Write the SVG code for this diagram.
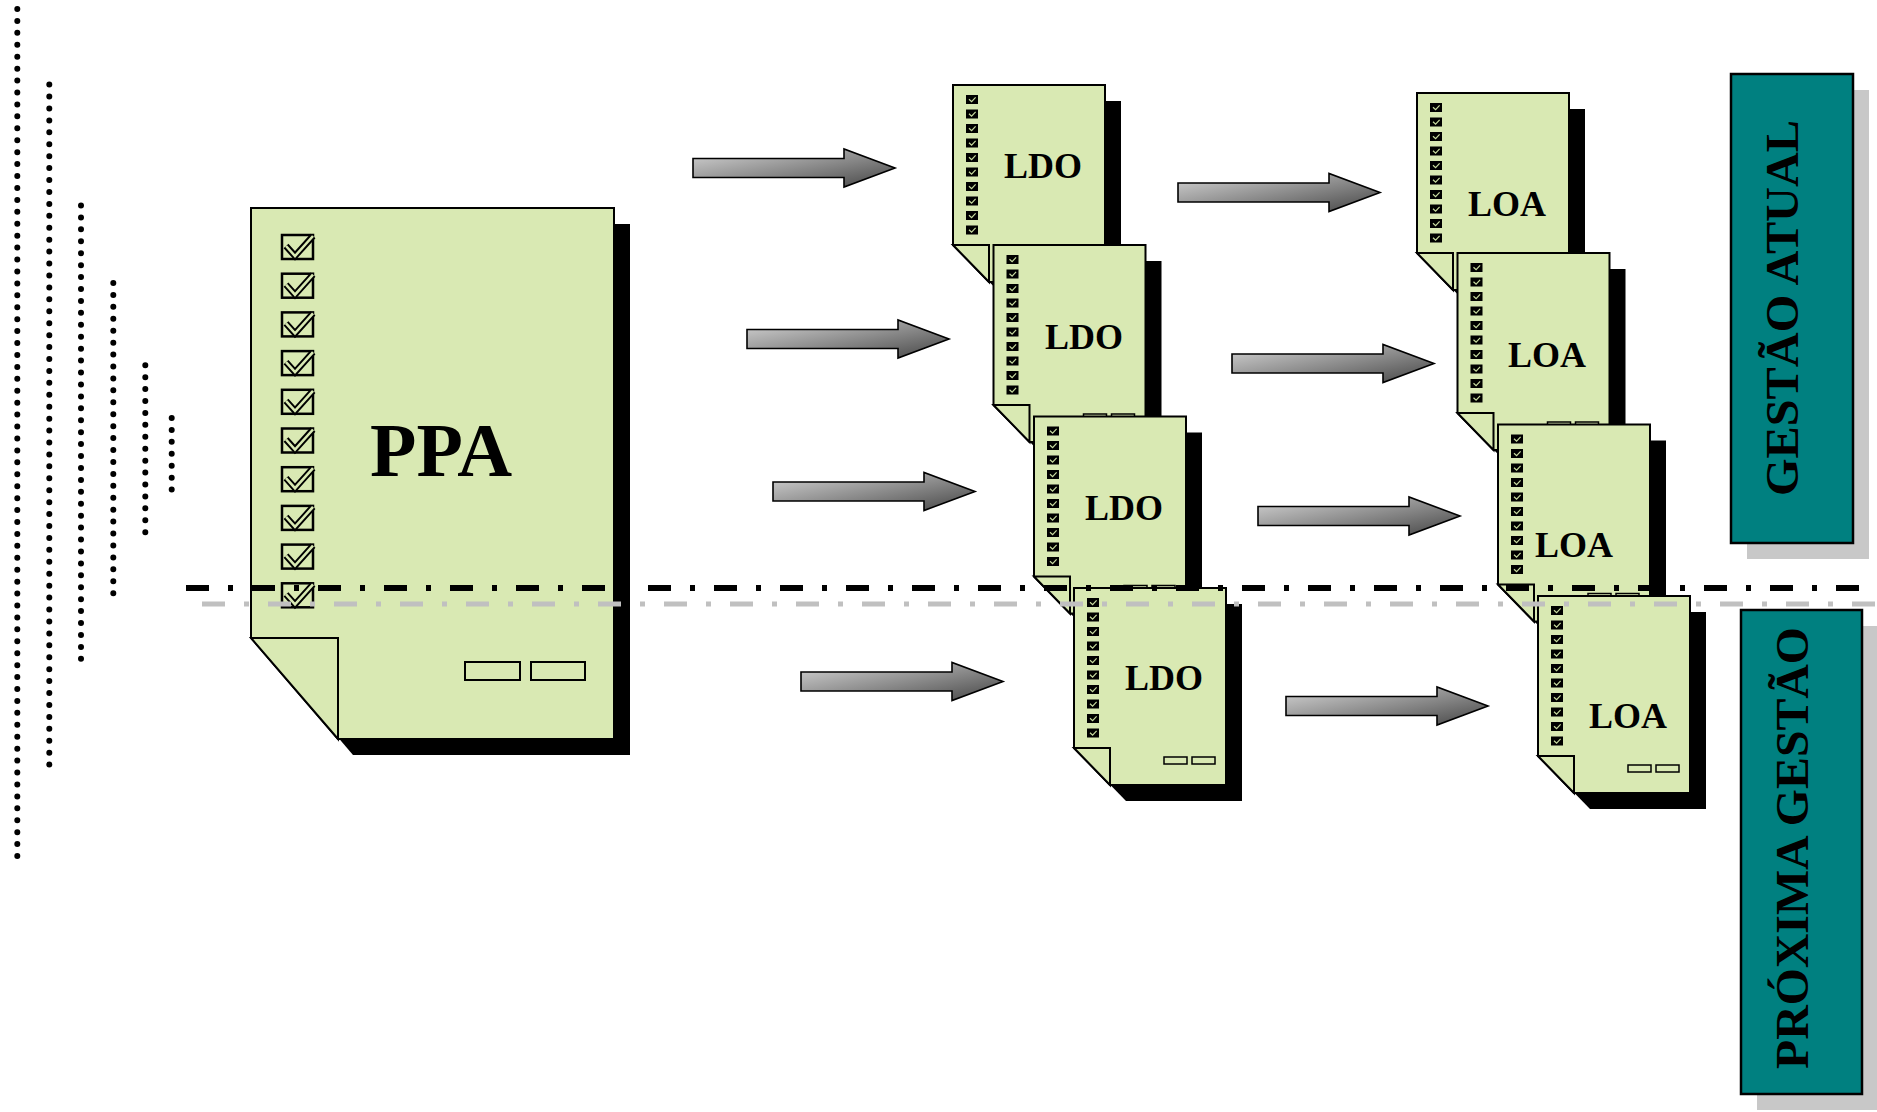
<svg xmlns="http://www.w3.org/2000/svg" width="1877" height="1112" viewBox="0 0 1877 1112">
<style>
.paper{fill:#d9e9b3;stroke:#000;stroke-width:2;stroke-linejoin:miter}
.shadow{fill:#000}
.lbl{font-family:"Liberation Serif","Times New Roman",serif;font-weight:bold;fill:#000}
.doc{font-size:36px}
.side{font-size:47px}
.arrow{fill:url(#ag);stroke:#000;stroke-width:1.6}
.dots{stroke:#000;stroke-width:6;stroke-linecap:round;stroke-dasharray:0 11.93;fill:none}
.teal{fill:#008080;stroke:#000;stroke-width:2.5}
.tshadow{fill:#c8c8c8}
.sr{fill:#d9e9b3;stroke:#000;stroke-width:1.5}
</style>
<defs>
<linearGradient id="ag" x1="0" y1="0" x2="1" y2="1">
<stop offset="0" stop-color="#d6d6d6"/>
<stop offset="0.5" stop-color="#8e8e8e"/>
<stop offset="1" stop-color="#454545"/>
</linearGradient>
<g id="cb">
<rect x="0" y="0" width="12" height="9" fill="#000"/>
<polyline points="3,4.2 5.6,6.6 9.6,2.4" fill="none" stroke="#c9dca0" stroke-width="1.2"/>
</g>
<g id="cbcol">
<use href="#cb" x="13" y="10"/>
<use href="#cb" x="13" y="24.5"/>
<use href="#cb" x="13" y="39"/>
<use href="#cb" x="13" y="53.5"/>
<use href="#cb" x="13" y="68"/>
<use href="#cb" x="13" y="82.5"/>
<use href="#cb" x="13" y="97"/>
<use href="#cb" x="13" y="111.5"/>
<use href="#cb" x="13" y="126"/>
<use href="#cb" x="13" y="140.5"/>
</g>
<g id="doc">
<polygon class="shadow" points="16,16 168,16 168,213 52,213 16,176"/>
<polygon class="paper" points="0,0 152,0 152,197 36,197 0,160"/>
<polygon class="paper" points="0,160 36,160 36,197"/>
<use href="#cbcol"/>
<rect class="sr" x="90" y="169" width="23" height="7"/>
<rect class="sr" x="118" y="169" width="23" height="7"/>
</g>
<g id="bigcb">
<rect x="0" y="0" width="31" height="24" fill="none" stroke="#000" stroke-width="2.5"/>
<polyline points="4,11 13,21 31,1" fill="none" stroke="#000" stroke-width="6.5"/>
<polyline points="4,11 13,21 31,1" fill="none" stroke="#d9e9b3" stroke-width="2.6"/>
</g>
<polygon id="arr" class="arrow" points="0,-9.5 151,-9.5 151,-19 202,0 151,19 151,9.5 0,9.5"/>
</defs>

<g id="dotted-lines">
<line class="dots" x1="17.3" y1="9" x2="17.3" y2="856.5"/>
<line class="dots" x1="49.3" y1="84.6" x2="49.3" y2="765"/>
<line class="dots" x1="81" y1="205.5" x2="81" y2="659.3"/>
<line class="dots" x1="113.3" y1="283" x2="113.3" y2="593.7"/>
<line class="dots" x1="145.3" y1="365.2" x2="145.3" y2="532.7"/>
<line class="dots" x1="171.7" y1="418" x2="171.7" y2="490.1"/>
</g>

<g id="ppa">
<polygon class="shadow" points="267,224 630,224 630,755 353,755 267,654"/>
<polygon class="paper" points="251,208 614,208 614,739 338,739 251,638"/>
<polygon class="paper" points="251,638 338,638 338,739"/>
<use href="#bigcb" x="282" y="235"/>
<use href="#bigcb" x="282" y="273.7"/>
<use href="#bigcb" x="282" y="312.4"/>
<use href="#bigcb" x="282" y="351.1"/>
<use href="#bigcb" x="282" y="389.8"/>
<use href="#bigcb" x="282" y="428.5"/>
<use href="#bigcb" x="282" y="467.2"/>
<use href="#bigcb" x="282" y="505.9"/>
<use href="#bigcb" x="282" y="544.6"/>
<use href="#bigcb" x="282" y="583.3"/>
<rect x="465" y="662" width="55" height="18" fill="none" stroke="#000" stroke-width="2"/>
<rect x="531" y="662" width="54" height="18" fill="none" stroke="#000" stroke-width="2"/>
<text class="lbl" x="370" y="476" font-size="76">PPA</text>
</g>

<g id="connectors">
<use href="#arr" x="693" y="168"/>
<use href="#arr" x="747" y="339"/>
<use href="#arr" x="773" y="491.5"/>
<use href="#arr" x="801" y="681.5"/>
<use href="#arr" x="1178" y="192.5"/>
<use href="#arr" x="1232" y="363.5"/>
<use href="#arr" x="1258" y="516"/>
<use href="#arr" x="1286" y="706"/>
</g>

<g id="ldo1"><use href="#doc" x="953" y="85"/><text class="lbl doc" x="1004" y="178">LDO</text></g>
<g id="ldo2"><use href="#doc" x="993.5" y="245"/><text class="lbl doc" x="1045" y="349">LDO</text></g>
<g id="ldo3"><use href="#doc" x="1034" y="416.5"/><text class="lbl doc" x="1085" y="519.5">LDO</text></g>
<g id="ldo4"><use href="#doc" x="1074" y="588"/><text class="lbl doc" x="1125" y="690">LDO</text></g>

<g id="loa1"><use href="#doc" x="1417" y="93"/><text class="lbl doc" x="1468" y="216">LOA</text></g>
<g id="loa2"><use href="#doc" x="1457.5" y="253"/><text class="lbl doc" x="1508" y="367">LOA</text></g>
<g id="loa3"><use href="#doc" x="1498" y="424.5"/><text class="lbl doc" x="1535" y="557">LOA</text></g>
<g id="loa4"><use href="#doc" x="1538" y="596"/><text class="lbl doc" x="1589" y="728">LOA</text></g>

<g id="gestao-atual">
<rect class="tshadow" x="1747" y="90" width="122" height="469"/>
<rect class="teal" x="1731" y="74" width="122" height="469"/>
<text class="lbl side" transform="translate(1798,308) rotate(-90)" text-anchor="middle" textLength="376" lengthAdjust="spacingAndGlyphs">GESTÃO ATUAL</text>
</g>

<g id="proxima-gestao">
<rect class="tshadow" x="1757" y="626" width="121" height="484"/>
<rect class="teal" x="1741" y="610" width="121" height="484"/>
<text class="lbl side" transform="translate(1808,848) rotate(-90)" text-anchor="middle" textLength="442" lengthAdjust="spacingAndGlyphs">PRÓXIMA GESTÃO</text>
</g>

<g id="divider">
<line x1="202" y1="604" x2="1877" y2="604" stroke="#c0c0c0" stroke-width="5" stroke-dasharray="23 19 5 19"/>
<line x1="186" y1="588" x2="1861" y2="588" stroke="#000" stroke-width="6" stroke-dasharray="23 19 5 19"/>
</g>
</svg>
